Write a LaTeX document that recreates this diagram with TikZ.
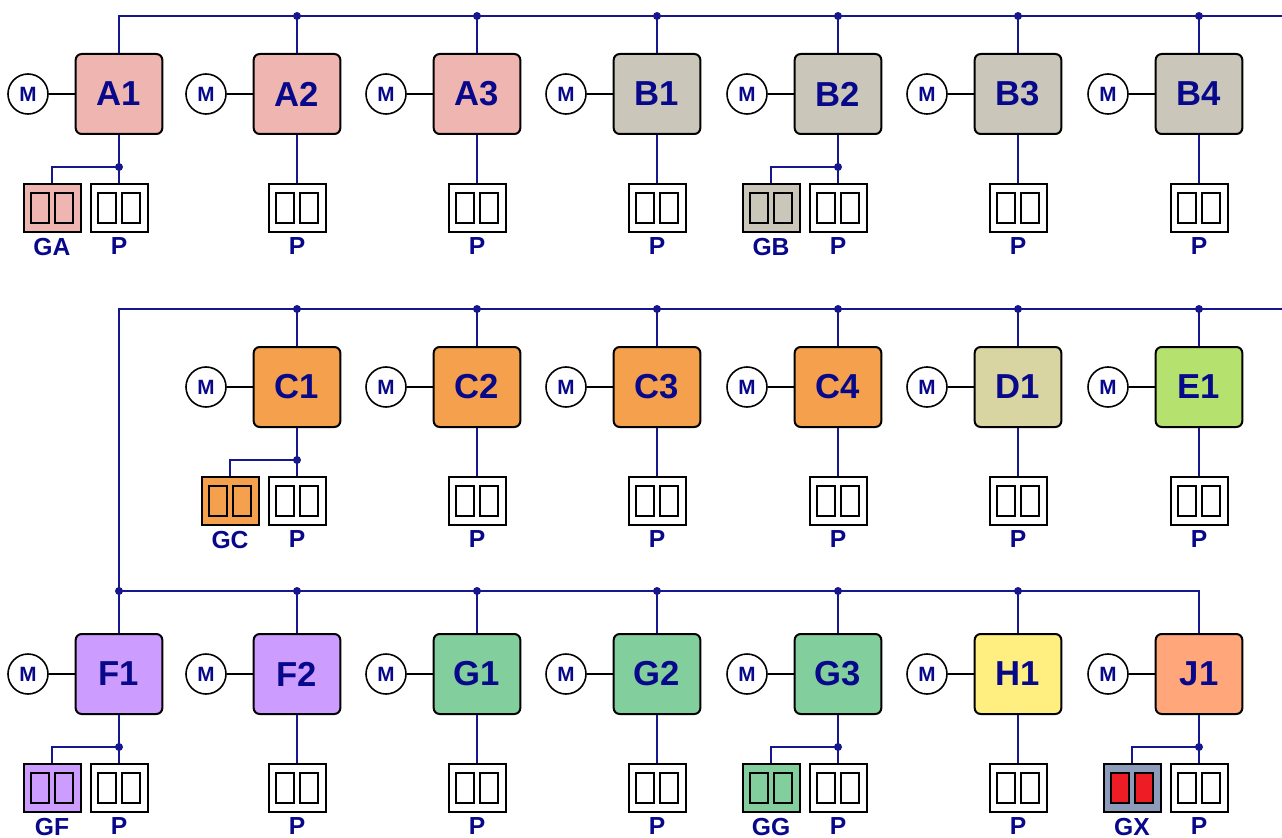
\documentclass[tikz,border=0pt]{standalone}
\usepackage{fontspec}
\setmainfont{Liberation Sans}
\usetikzlibrary{positioning}

\definecolor{navy}{HTML}{08088A}
\definecolor{busblue}{HTML}{16168F}
\definecolor{colA}{HTML}{EFB5B0}
\definecolor{colB}{HTML}{CAC6B9}
\definecolor{colC}{HTML}{F5A04D}
\definecolor{colD}{HTML}{D8D5A2}
\definecolor{colE}{HTML}{B5E26F}
\definecolor{colF}{HTML}{CC9CFF}
\definecolor{colG}{HTML}{82CF9D}
\definecolor{colH}{HTML}{FFEF80}
\definecolor{colJ}{HTML}{FFA77B}
\definecolor{colX}{HTML}{8E9CBC}
\definecolor{plugred}{HTML}{EE1C25}

\tikzstyle{unit} = [draw=black, line width=1.5pt, rounded corners=4.5pt, minimum width=65pt, minimum height=60pt, inner sep=0pt, text=navy, font=\fontsize{26}{26}\selectfont\bfseries]
\tikzstyle{motor} = [circle, draw=black, fill=white, line width=1.2pt, minimum size=30pt, inner sep=0pt, text=navy, font=\fontsize{15.5}{15.5}\selectfont\bfseries]
\tikzstyle{tag} = [text=navy, inner sep=0pt, font=\fontsize{18.5}{18.5}\selectfont\bfseries]
\tikzstyle{bus} = [draw=busblue, line width=1.5pt]
\tikzstyle{link} = [draw=black, line width=1.5pt]
\tikzstyle{dot} = [circle, fill=busblue, inner sep=0pt, minimum size=6pt]
\tikzset{
  plug/.style={draw=black, fill=white, line width=1.5pt, minimum width=42.75pt, minimum height=36pt, inner sep=0pt,
    path picture={
      \draw[line width=1.5pt, fill=#1] ([xshift=-15.4pt, yshift=-11.25pt]path picture bounding box.center) rectangle ++(13.5pt,22.5pt);
      \draw[line width=1.5pt, fill=#1] ([xshift=1.9pt, yshift=-11.25pt]path picture bounding box.center) rectangle ++(13.5pt,22.5pt);
    }},
  plug/.default=none
}

\begin{document}
\begin{tikzpicture}[x=0.75pt, y=-0.75pt]
  \useasboundingbox (0,0) rectangle (1282,838);

  % units with motor and plug
  \foreach \n/\x/\y/\c in {A1/119/94/colA, A2/297/94/colA, A3/477/94/colA, B1/657/94/colB,
                          B2/838/94/colB, B3/1018/94/colB, B4/1199/94/colB,
                          C1/297/387/colC, C2/477/387/colC, C3/657/387/colC, C4/838/387/colC,
                          D1/1018/387/colD, E1/1199/387/colE,
                          F1/119/674/colF, F2/297/674/colF, G1/477/674/colG, G2/657/674/colG,
                          G3/838/674/colG, H1/1018/674/colH, J1/1199/674/colJ} {
    \node[unit, fill=\c] (\n) at (\x,\y) {\n};
    \node[motor] (m\n) at ({\x-91},\y) {M};
    \node[plug] (p\n) at (\x,{\y+114}) {};
    \node[tag, below=3.5pt of p\n] (t\n) {P};
    \draw[link] (m\n) -- (\n);
    \draw[bus] (\n) -- (p\n);
  }

  % extra plugs
  \foreach \n/\g/\c/\i in {A1/GA/colA/none, B2/GB/colB/none, C1/GC/colC/none,
                           F1/GF/colF/none, G3/GG/colG/none, J1/GX/colX/plugred} {
    \node[plug=\i, fill=\c, left=6pt of p\n] (g\n) {};
    \node[tag, below=3.5pt of g\n] (tg\n) {\g};
    \node[dot] (k\n) at ([yshift=12pt]p\n.north) {};
    \draw[bus] (k\n.center) -| (g\n.north);
  }

  % bus lines
  \coordinate (end1) at (1282,16);
  \coordinate (corner2) at (119,309);
  \coordinate (end2) at (1282,309);
  \node[dot] (j3) at (119,591) {};
  \draw[bus] (A1.north) |- (end1);
  \draw[bus] (j3.center) -- (corner2) -- (end2);
  \draw[bus] (F1.north) -- (j3.center) -| (J1.north);

  \foreach \n in {A2,A3,B1,B2,B3,B4} {
    \node[dot] (d\n) at (\n.north |- end1) {};
    \draw[bus] (d\n.center) -- (\n.north);
  }
  \foreach \n in {C1,C2,C3,C4,D1,E1} {
    \node[dot] (d\n) at (\n.north |- end2) {};
    \draw[bus] (d\n.center) -- (\n.north);
  }
  \foreach \n in {F2,G1,G2,G3,H1} {
    \node[dot] (d\n) at (\n.north |- j3) {};
    \draw[bus] (d\n.center) -- (\n.north);
  }
\end{tikzpicture}
\end{document}
